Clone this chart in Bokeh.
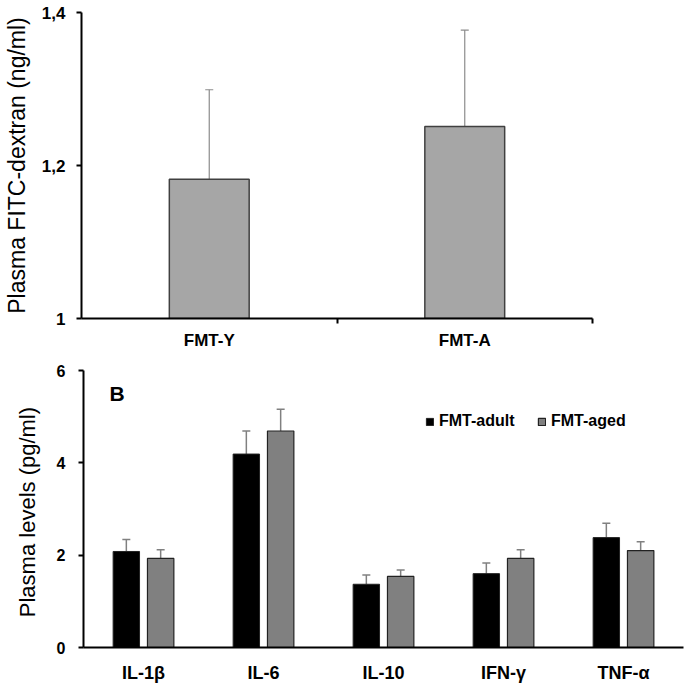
from bokeh.plotting import figure
from bokeh.models import (ColumnDataSource, Range1d, FactorRange, FixedTicker, Whisker,
                          TeeHead, Legend, LegendItem, Label)
from bokeh.transform import dodge
from bokeh.embed import file_html
from bokeh.resources import INLINE

FONT = "Liberation Sans"

# ---- Panel A data ----
groups_a = ["FMT-Y", "FMT-A"]
pos_a = [0.5, 1.5]
mean_a = [1.182, 1.251]
err_a = [0.117, 0.126]

# ---- Panel B data ----
cytokines = ["IL-1β", "IL-6", "IL-10", "IFN-γ", "TNF-α"]
adult = [2.08, 4.19, 1.37, 1.60, 2.38]
adult_err = [0.26, 0.50, 0.20, 0.23, 0.31]
aged = [1.93, 4.69, 1.54, 1.93, 2.10]
aged_err = [0.19, 0.47, 0.14, 0.19, 0.19]

W = 685


def style_axes(p, tick_size, label_size, tick_std, label_std):
    for ax in (p.xaxis, p.yaxis):
        ax.axis_line_width = 2
        ax.axis_line_color = "black"
        ax.major_tick_line_width = 2
        ax.major_tick_in = 0
        ax.major_tick_out = 5
        ax.major_label_text_font = FONT
        ax.major_label_text_font_style = "bold"
        ax.major_label_text_color = "black"
        ax.axis_label_text_font = FONT
        ax.axis_label_text_font_style = "normal"
        ax.axis_label_text_color = "black"
    p.yaxis.minor_tick_line_color = None
    p.yaxis.major_label_text_font_size = tick_size
    p.yaxis.axis_label_text_font_size = label_size
    p.yaxis.major_label_standoff = tick_std
    p.yaxis.axis_label_standoff = label_std


# ================= Panel A =================
pa = figure(width=W, height=352, output_backend="svg", toolbar_location=None,
            x_range=Range1d(0, 2), y_range=Range1d(1, 1.4),
            min_border_left=80, min_border_right=93, min_border_top=12, min_border_bottom=32)
pa.outline_line_color = None
pa.grid.grid_line_color = None

src_a = ColumnDataSource(dict(x=pos_a, top=mean_a,
                              upper=[m + e for m, e in zip(mean_a, err_a)]))
pa.add_layout(Whisker(source=src_a, base="x", upper="upper", lower="top",
                      line_color="#8c8c8c", line_width=1.2,
                      upper_head=TeeHead(size=8, line_color="#8c8c8c", line_width=1.2),
                      lower_head=None))
pa.vbar(x="x", top="top", bottom=1, width=0.3125, source=src_a,
        fill_color="#a6a6a6", line_color="#404040", line_width=1.5)

style_axes(pa, "17px", "23px", 11, 9)
pa.yaxis.ticker = FixedTicker(ticks=[1, 1.2, 1.4])
pa.yaxis.major_label_overrides = {1: "1", 1.2: "1,2", 1.4: "1,4"}
pa.yaxis.axis_label = "Plasma FITC-dextran (ng/ml)"
pa.xaxis.ticker = FixedTicker(ticks=pos_a, minor_ticks=[1, 2])
pa.xaxis.major_label_overrides = {0.5: "FMT-Y", 1.5: "FMT-A"}
pa.xaxis.major_tick_line_color = None
pa.xaxis.minor_tick_line_color = "black"
pa.xaxis.minor_tick_line_width = 2
pa.xaxis.minor_tick_out = 5
pa.xaxis.minor_tick_in = 0
pa.xaxis.major_label_text_font_size = "17px"
pa.xaxis.major_label_standoff = 7

# ================= Panel B =================
pb = figure(width=W, height=333, output_backend="svg", toolbar_location=None,
            x_range=FactorRange(*cytokines), y_range=Range1d(0, 6),
            min_border_left=83, min_border_right=2, min_border_top=18, min_border_bottom=38)
pb.outline_line_color = None
pb.grid.grid_line_color = None

src_b = ColumnDataSource(dict(
    cat=cytokines, adult=adult, aged=aged,
    adult_up=[m + e for m, e in zip(adult, adult_err)],
    aged_up=[m + e for m, e in zip(aged, aged_err)]))

off = 0.143
bw = 0.22
for col, up, sign in (("adult", "adult_up", -1), ("aged", "aged_up", 1)):
    pb.add_layout(Whisker(source=src_b, base=dodge("cat", sign * off, range=pb.x_range),
                          upper=up, lower=col,
                          line_color="#808080", line_width=1.5,
                          upper_head=TeeHead(size=8, line_color="#808080", line_width=1.5),
                          lower_head=None))
r1 = pb.vbar(x=dodge("cat", -off, range=pb.x_range), top="adult", width=bw, source=src_b,
             fill_color="black", line_color="#222222", line_width=1)
r2 = pb.vbar(x=dodge("cat", off, range=pb.x_range), top="aged", width=bw, source=src_b,
             fill_color="#808080", line_color="#222222", line_width=1.2)

legend = Legend(items=[LegendItem(label="FMT-adult", renderers=[r1]),
                       LegendItem(label="FMT-aged", renderers=[r2])],
                orientation="horizontal", location=(342, 217),
                glyph_width=9, glyph_height=9, label_standoff=5, spacing=14,
                label_width=84,
                padding=0, margin=0, border_line_color=None, background_fill_alpha=0,
                label_text_font=FONT, label_text_font_size="16px",
                label_text_font_style="bold", label_text_color="black")
pb.add_layout(legend)

pb.add_layout(Label(x=26, y=243, x_units="screen", y_units="screen", text="B",
                    text_font=FONT, text_font_style="bold", text_font_size="21px",
                    text_color="black"))

style_axes(pb, "16px", "22px", 13, 14)
pb.yaxis.ticker = FixedTicker(ticks=[0, 2, 4, 6])
pb.yaxis.axis_label = "Plasma levels  (pg/ml)"
pb.xaxis.major_tick_line_color = None
pb.xaxis.major_label_text_font_size = "18px"
pb.xaxis.major_label_standoff = 10

open("out.html", "w").write(file_html([pa, pb], INLINE))
